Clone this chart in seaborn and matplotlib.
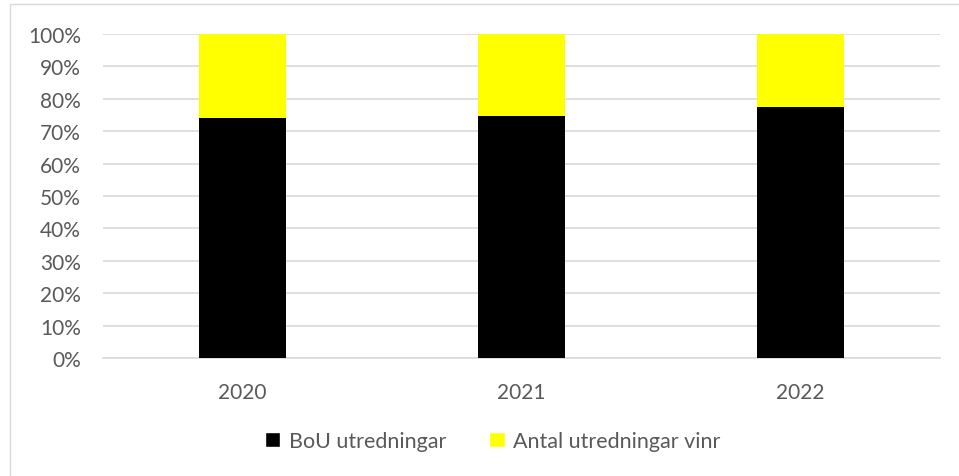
import matplotlib
matplotlib.use("Agg")
import matplotlib.pyplot as plt
import seaborn as sns
import pandas as pd
from matplotlib.patches import Patch, Rectangle
from matplotlib.ticker import PercentFormatter

years = ["2020", "2021", "2022"]
bou = [74.1, 74.8, 77.6]
vinr = [25.9, 25.2, 22.4]

df = pd.DataFrame({"year": years, "bou": bou, "vinr": vinr})
df["total"] = df["bou"] + df["vinr"]

sns.set_style("white")
plt.rcParams["font.family"] = ["Lato", "DejaVu Sans"]

fig = plt.figure(figsize=(9.59, 4.77), dpi=100)
ax = fig.add_axes([0.1074, 0.2474, 0.8727, 0.6792])

# stacked: total in yellow underneath, black part on top of it
sns.barplot(data=df, x="year", y="total", color="#ffff00", width=0.31,
            saturation=1, linewidth=0, ax=ax, zorder=2)
sns.barplot(data=df, x="year", y="bou", color="#000000", width=0.31,
            saturation=1, linewidth=0, ax=ax, zorder=3)

ax.set_ylim(0, 100)
ax.set_yticks(range(0, 101, 10))
ax.yaxis.set_major_formatter(PercentFormatter(decimals=0))
ax.grid(axis="y", color="#d9d9d9", linewidth=1.2, zorder=0)
ax.set_axisbelow(True)
ax.set_xlabel("")
ax.set_ylabel("")
for s in ["left", "top", "right"]:
    ax.spines[s].set_visible(False)
ax.spines["bottom"].set_color("#d9d9d9")
ax.spines["bottom"].set_linewidth(1.2)
ax.tick_params(axis="both", length=0, labelsize=15, labelcolor="#595959")
ax.tick_params(axis="y", pad=16)
ax.tick_params(axis="x", pad=17)

handles = [Patch(facecolor="#000000", label="BoU utredningar"),
           Patch(facecolor="#ffff00", label="Antal utredningar vinr")]
fig.legend(handles=handles, loc="center", bbox_to_anchor=(0.514, 0.073),
           ncol=2, frameon=False, fontsize=15.5, labelcolor="#595959",
           handlelength=0.7, handleheight=0.7, handletextpad=0.4,
           columnspacing=2.0)

# chart area border
fig.add_artist(Rectangle((10 / 959, -0.1), 1.2, 1.1 - 5 / 477,
                         transform=fig.transFigure, fill=False,
                         edgecolor="#d9d9d9", linewidth=1))

fig.savefig("out.png", dpi=100)
